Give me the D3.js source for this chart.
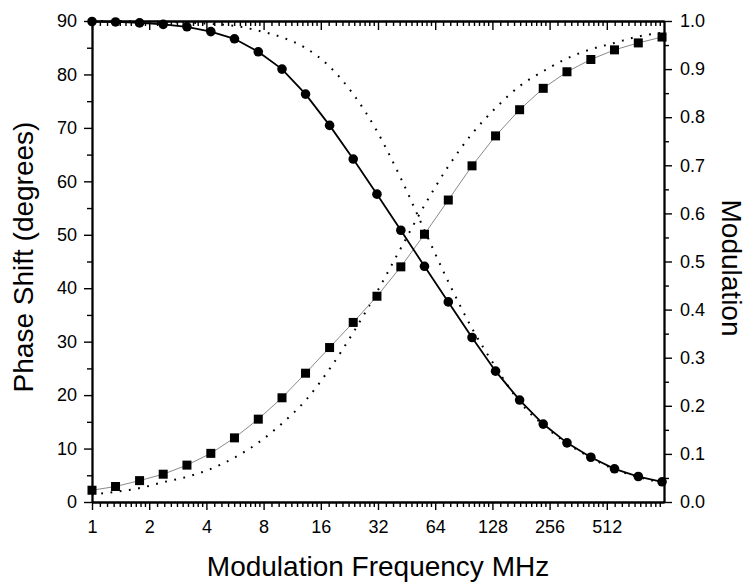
<!DOCTYPE html>
<html>
<head>
<meta charset="utf-8">
<script src="https://cdn.jsdelivr.net/npm/d3@7"></script>
<style>
  body { margin: 0; background: #fff; }
  svg text { font-family: "Liberation Sans", Arial, sans-serif; fill: #000; }
</style>
</head>
<body>
<svg id="chart" width="748" height="583"></svg>
<script>
// modulation frequencies (MHz), 8 points per decade
const freqs = [1, 1.33, 1.78, 2.37, 3.16, 4.22, 5.62, 7.5, 10, 13.3, 17.8, 23.7, 31.6,
               42.2, 56.2, 75, 100, 133, 178, 237, 316, 422, 562, 750, 1000];
// measured phase shift (degrees) - squares, left axis
const phase = [2.2, 2.9, 4.0, 5.2, 6.9, 9.1, 12.0, 15.5, 19.5, 24.1, 28.9, 33.6, 38.5,
               44.0, 50.1, 56.5, 62.9, 68.5, 73.4, 77.4, 80.5, 82.8, 84.6, 85.9, 87.0];
// measured modulation - circles, right axis
const modulation = [0.999, 0.998, 0.996, 0.993, 0.988, 0.978, 0.963, 0.936, 0.900, 0.848,
                    0.783, 0.713, 0.640, 0.565, 0.490, 0.416, 0.342, 0.272, 0.212, 0.162,
                    0.123, 0.093, 0.069, 0.053, 0.042];
// dotted reference curves
const phaseRef = [1.4, 1.9, 2.6, 3.7, 4.7, 6.2, 8.3, 11.1, 14.7, 19.0, 24.9, 31.7, 39.3,
                  47.5, 55.5, 62.8, 68.9, 73.7, 77.8, 80.6, 83.0, 84.7, 85.9, 87.1, 87.8];
const modRef = [1.0, 1.0, 0.999, 0.998, 0.997, 0.994, 0.990, 0.980, 0.966, 0.944, 0.905,
                0.848, 0.771, 0.673, 0.565, 0.458, 0.361, 0.281, 0.208, 0.160, 0.122,
                0.092, 0.068, 0.052, 0.040];

const xTicks = [1, 2, 4, 8, 16, 32, 64, 128, 256, 512];
const phaseTicks = [0, 10, 20, 30, 40, 50, 60, 70, 80, 90];
const modTicks = [0, 0.1, 0.2, 0.3, 0.4, 0.5, 0.6, 0.7, 0.8, 0.9, 1.0];

const width = 748, height = 583;
const margin = {top: 21, right: 84, bottom: 81, left: 92};

const svg = d3.select('#chart');

const x = d3.scaleLog().base(2)
    .domain([1, 1024])
    .range([margin.left, width - margin.right]);
const yL = d3.scaleLinear()
    .domain([0, 90])
    .range([height - margin.bottom, margin.top]);
const yR = d3.scaleLinear()
    .domain([0, 1])
    .range([height - margin.bottom, margin.top]);

// minor ticks: 9 per octave on x, halves on y
const xMinor = [];
xTicks.forEach(b => { for (let j = 1; j < 10; j++) xMinor.push(b * (1 + j / 10)); });
const phaseMinor = phaseTicks.slice(0, -1).map(d => d + 5);
const modMinor = modTicks.slice(0, -1).map(d => +(d + 0.05).toFixed(2));

function styleAxis(g) {
    g.selectAll('.domain').attr('stroke-width', 1.8);
    g.selectAll('.tick line').attr('stroke-width', 1.4);
    g.selectAll('.tick text').attr('font-size', 18);
}

const bottomY = height - margin.bottom;

// bottom
svg.append('g').attr('transform', `translate(0,${bottomY})`)
    .call(d3.axisBottom(x).tickValues(xMinor).tickSize(5).tickSizeOuter(0).tickFormat(''))
    .call(styleAxis);
svg.append('g').attr('transform', `translate(0,${bottomY})`)
    .call(d3.axisBottom(x).tickValues(xTicks).tickSize(8).tickSizeOuter(0)
        .tickPadding(10).tickFormat(d3.format('d')))
    .call(styleAxis);
// top (inward ticks, no labels)
svg.append('g').attr('transform', `translate(0,${margin.top})`)
    .call(d3.axisTop(x).tickValues(xMinor).tickSize(-5).tickSizeOuter(0).tickFormat(''))
    .call(styleAxis);
svg.append('g').attr('transform', `translate(0,${margin.top})`)
    .call(d3.axisTop(x).tickValues(xTicks).tickSize(-9).tickSizeOuter(0).tickFormat(''))
    .call(styleAxis);
// left
svg.append('g').attr('transform', `translate(${margin.left},0)`)
    .call(d3.axisLeft(yL).tickValues(phaseMinor).tickSize(5).tickSizeOuter(0).tickFormat(''))
    .call(styleAxis);
svg.append('g').attr('transform', `translate(${margin.left},0)`)
    .call(d3.axisLeft(yL).tickValues(phaseTicks).tickSize(8).tickSizeOuter(0).tickPadding(7))
    .call(styleAxis);
// right
svg.append('g').attr('transform', `translate(${width - margin.right},0)`)
    .call(d3.axisRight(yR).tickValues(modMinor).tickSize(5).tickSizeOuter(0).tickFormat(''))
    .call(styleAxis);
svg.append('g').attr('transform', `translate(${width - margin.right},0)`)
    .call(d3.axisRight(yR).tickValues(modTicks).tickSize(8).tickSizeOuter(0).tickPadding(8)
        .tickFormat(d3.format('.1f')))
    .call(styleAxis);

// axis titles
svg.append('text')
    .attr('x', (margin.left + width - margin.right) / 2).attr('y', 576)
    .attr('text-anchor', 'middle').attr('font-size', 28)
    .text('Modulation Frequency MHz');
svg.append('text')
    .attr('transform', 'translate(33,257) rotate(-90)')
    .attr('text-anchor', 'middle').attr('font-size', 28)
    .text('Phase Shift (degrees)');
svg.append('text')
    .attr('transform', 'translate(722,268) rotate(90)')
    .attr('text-anchor', 'middle').attr('font-size', 28)
    .text('Modulation');

// dotted reference curves
const lineL = d3.line().x((d, i) => x(freqs[i])).y(d => yL(d)).curve(d3.curveMonotoneX);
const lineR = d3.line().x((d, i) => x(freqs[i])).y(d => yR(d)).curve(d3.curveMonotoneX);

svg.append('path').datum(phaseRef)
    .attr('d', lineL).attr('fill', 'none').attr('stroke', '#000')
    .attr('stroke-width', 2).attr('stroke-dasharray', '1.8,7.5');
svg.append('path').datum(modRef)
    .attr('d', lineR).attr('fill', 'none').attr('stroke', '#000')
    .attr('stroke-width', 2).attr('stroke-dasharray', '1.8,7.5');

// measured data: lines
svg.append('path').datum(phase)
    .attr('d', d3.line().x((d, i) => x(freqs[i])).y(d => yL(d)))
    .attr('fill', 'none').attr('stroke', '#8a8a8a').attr('stroke-width', 1);
svg.append('path').datum(modulation)
    .attr('d', d3.line().x((d, i) => x(freqs[i])).y(d => yR(d)))
    .attr('fill', 'none').attr('stroke', '#000').attr('stroke-width', 1.8);

// markers
svg.append('g').selectAll('rect')
    .data(phase)
    .join('rect')
    .attr('x', (d, i) => x(freqs[i]) - 4.5)
    .attr('y', d => yL(d) - 4.5)
    .attr('width', 9).attr('height', 9)
    .attr('fill', '#000');
svg.append('g').selectAll('circle')
    .data(modulation)
    .join('circle')
    .attr('cx', (d, i) => x(freqs[i]))
    .attr('cy', d => yR(d))
    .attr('r', 4.8)
    .attr('fill', '#000');
</script>
</body>
</html>
